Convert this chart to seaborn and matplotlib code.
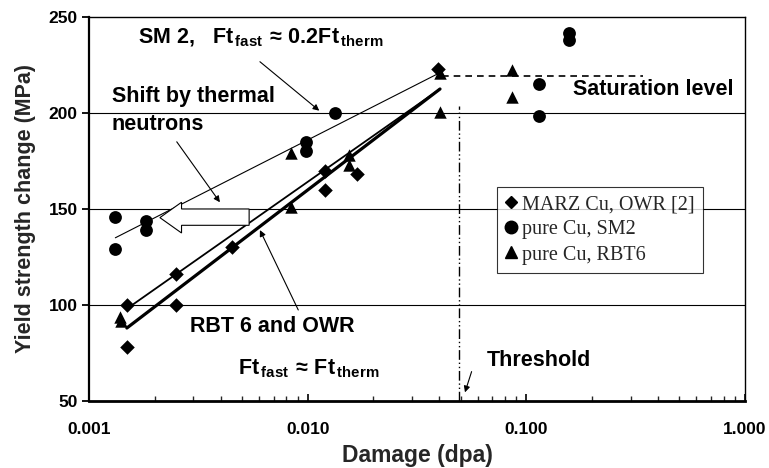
import numpy as np
import seaborn as sns
import matplotlib.pyplot as plt
from matplotlib.ticker import FixedLocator, LogLocator, FormatStrFormatter, NullFormatter
from matplotlib.lines import Line2D

sns.set_theme(style="ticks")
plt.rcParams['font.family'] = ['Liberation Sans', 'DejaVu Sans']
plt.rcParams['mathtext.fontset'] = 'custom'
plt.rcParams['mathtext.rm'] = 'Liberation Sans:bold'
plt.rcParams['mathtext.bf'] = 'Liberation Sans:bold'
plt.rcParams['mathtext.it'] = 'Liberation Sans:bold'

# MARZ Cu, OWR [2]
marz_x = [0.0015, 0.0015, 0.0025, 0.0025, 0.0045, 0.012, 0.012, 0.0169, 0.0395]
marz_y = [100, 78, 116, 100, 130, 170, 160, 168, 223]
# pure Cu, SM2
sm2_x = [0.00132, 0.00132, 0.00182, 0.00182, 0.0098, 0.0098, 0.0133, 0.114, 0.114, 0.157, 0.157]
sm2_y = [146, 129, 144, 139, 185, 180, 200, 215, 198.5, 241.5, 238]
# pure Cu, RBT6
rbt_x = [0.00138, 0.0014, 0.0084, 0.0084, 0.0154, 0.0154, 0.0403, 0.0403, 0.0857, 0.0857]
rbt_y = [94, 91.5, 179, 151, 178, 173, 200.5, 221, 222.5, 208.5]

# trend lines
sm2_fit_x = [0.00132, 0.0395]
sm2_fit_y = [135, 220.5]
owr_fit_x = [0.0016, 0.0403]
owr_fit_y = [100.5, 212.5]
rbt_fit_x = [0.00149, 0.0403]
rbt_fit_y = [88, 212.5]
sat_x = [0.041, 0.34]
sat_y = 219.5
thr_x = 0.049
thr_top = 203.5

fig, ax = plt.subplots(figsize=(7.69, 4.68), dpi=100)
fig.subplots_adjust(left=0.1157, right=0.9688, bottom=0.1432, top=0.9637)

ax.set_xscale('log')
ax.set_xlim(0.001, 1.0)
ax.set_ylim(50, 250)

for yy in [100, 150, 200]:
    ax.axhline(yy, color='black', lw=0.8, zorder=1)

ax.plot(sm2_fit_x, sm2_fit_y, color='black', lw=0.8, zorder=2)
ax.plot(owr_fit_x, owr_fit_y, color='black', lw=1.3, zorder=2)
ax.plot(rbt_fit_x, rbt_fit_y, color='black', lw=2.3, zorder=2)
ax.plot(sat_x, [sat_y, sat_y], color='black', lw=1.2, ls=(0, (4, 3)), zorder=2)
ax.plot([thr_x, thr_x], [50, thr_top], color='black', lw=1.0,
        ls=(0, (7, 2, 1, 2, 1, 2)), zorder=2)

# hollow shift arrow
arr_x = [0.00211, 0.00265, 0.00265, 0.0054, 0.0054, 0.00265, 0.00265]
arr_y = [145.5, 153.5, 150, 150, 141.5, 141.5, 137.5]
ax.fill(arr_x, arr_y, facecolor='white', edgecolor='black', lw=0.8, zorder=3)

sns.scatterplot(x=rbt_x, y=rbt_y, marker='^', s=80, color='black', edgecolor='black',
                linewidth=0, ax=ax, zorder=4)
sns.scatterplot(x=sm2_x, y=sm2_y, marker='o', s=85, color='black', edgecolor='black',
                linewidth=0, ax=ax, zorder=4)
sns.scatterplot(x=marz_x, y=marz_y, marker='D', s=55, color='black', edgecolor='black',
                linewidth=0, ax=ax, zorder=5)

# annotations
tkw = dict(fontsize=15.5, fontweight='bold', color='black', va='baseline', zorder=6)
ax.text(0.00168, 236.3,
        r'SM 2,   Ft$_{\,\mathbf{fast}}$$\,\approx\,$0.2Ft$_{\,\mathbf{therm}}$', **tkw)
ax.text(0.00127, 205.9, 'Shift by thermal', **tkw)
ax.text(0.00127, 191.1, 'neutrons', **tkw)
ax.text(0.163, 209.4, 'Saturation level', **tkw)
ax.text(0.0029, 86.1, 'RBT 6 and OWR', **tkw)
ax.text(0.00482, 64, r'Ft$_{\,\mathbf{fast}}$$\,\approx\,$Ft$_{\,\mathbf{therm}}$', **tkw)
ax.text(0.0658, 68.2, 'Threshold', **tkw)

akw = dict(arrowstyle='-|>', color='black', lw=0.8, mutation_scale=9, shrinkA=0, shrinkB=0)
ax.annotate('', xy=(0.0113, 201.2), xytext=(0.00605, 226.7), arrowprops=akw)
ax.annotate('', xy=(0.00397, 153.5), xytext=(0.00252, 185), arrowprops=akw)
ax.annotate('', xy=(0.00605, 139), xytext=(0.00906, 97.4), arrowprops=akw)
ax.annotate('', xy=(0.0524, 54.5), xytext=(0.0562, 65.3), arrowprops=akw)

# axes styling
for side in ['top', 'right']:
    ax.spines[side].set_linewidth(1.0)
ax.spines['left'].set_linewidth(1.6)
ax.spines['bottom'].set_linewidth(2.0)
for sp in ax.spines.values():
    sp.set_color('black')

ax.xaxis.set_major_locator(FixedLocator([0.001, 0.01, 0.1, 1.0]))
ax.xaxis.set_minor_locator(LogLocator(base=10, subs=np.arange(2, 10)))
ax.xaxis.set_major_formatter(FormatStrFormatter('%.3f'))
ax.xaxis.set_minor_formatter(NullFormatter())
ax.set_yticks([50, 100, 150, 200, 250])
ax.tick_params(axis='x', which='major', direction='in', length=5, width=1.2,
               pad=15, labelsize=12.5, colors='black')
ax.tick_params(axis='x', which='minor', direction='in', length=3.5, width=1.0)
ax.tick_params(axis='y', direction='out', length=5, width=1.3, pad=3,
               labelsize=12.5, colors='black')
for lab in ax.get_xticklabels() + ax.get_yticklabels():
    lab.set_fontweight('bold')

ax.set_xlabel('Damage (dpa)', fontsize=16.5, fontweight='bold', labelpad=5)
ax.set_ylabel('Yield strength change (MPa)', fontsize=15.5, fontweight='bold', labelpad=9)

handles = [
    Line2D([], [], marker='D', color='black', ls='none', markersize=6.5),
    Line2D([], [], marker='o', color='black', ls='none', markersize=9),
    Line2D([], [], marker='^', color='black', ls='none', markersize=9),
]
labels = ['MARZ Cu, OWR [2]', 'pure Cu, SM2', 'pure Cu, RBT6']
leg = ax.legend(handles, labels, loc='upper left', bbox_to_anchor=(0.622, 0.557),
                borderaxespad=0, frameon=True, fancybox=False, handlelength=0.6,
                handletextpad=0.25, labelspacing=0.3, borderpad=0.4,
                prop={'family': 'Liberation Serif', 'size': 14.5})
leg.get_frame().set_edgecolor('black')
leg.get_frame().set_linewidth(0.8)
leg.set_zorder(7)

fig.savefig('out.png', dpi=100)
